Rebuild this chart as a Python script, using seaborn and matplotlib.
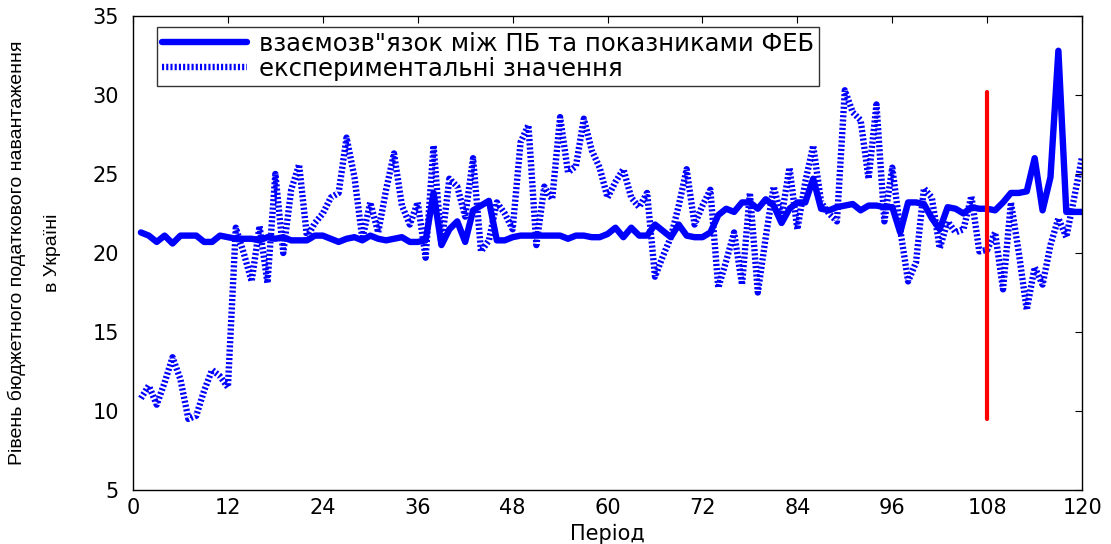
import numpy as np
import pandas as pd
import matplotlib
matplotlib.use('Agg')
import matplotlib.pyplot as plt
import seaborn as sns

# Period index
periods = list(range(1, 121))

# Model: relationship between budget burden and financial-economic indicators
model_values = [
    21.3, 21.1, 20.7, 21.1, 20.6, 21.1, 21.1, 21.1, 20.7, 20.7,
    21.1, 21.0, 20.9, 20.9, 20.9, 20.8, 21.0, 20.9, 21.0, 20.8,
    20.8, 20.8, 21.1, 21.1, 20.9, 20.7, 20.9, 21.0, 20.8, 21.1,
    20.9, 20.8, 20.9, 21.0, 20.7, 20.7, 20.8, 23.8, 20.5, 21.5,
    22.0, 20.7, 22.7, 23.0, 23.3, 20.8, 20.8, 21.0, 21.1, 21.1,
    21.1, 21.1, 21.1, 21.1, 20.9, 21.1, 21.1, 21.0, 21.0, 21.2,
    21.6, 21.0, 21.6, 21.1, 21.1, 21.8, 21.4, 21.0, 21.8, 21.1,
    21.0, 21.0, 21.3, 22.4, 22.8, 22.6, 23.2, 23.2, 22.8, 23.4,
    23.0, 21.9, 22.8, 23.2, 23.2, 24.7, 22.8, 22.7, 22.9, 23.0,
    23.1, 22.7, 23.0, 23.0, 22.9, 22.9, 21.3, 23.2, 23.2, 23.1,
    22.2, 21.5, 22.9, 22.8, 22.5, 22.9, 22.8, 22.8, 22.7, 23.2,
    23.8, 23.8, 23.9, 26.0, 22.7, 24.8, 32.8, 22.6, 22.6, 22.6,
]

# Experimental values
experimental_values = [
    10.8, 11.6, 10.4, 11.8, 13.4, 12.0, 9.5, 9.7, 11.3, 12.6,
    12.2, 11.5, 21.6, 20.0, 18.2, 21.7, 18.1, 25.0, 20.0, 24.0,
    25.6, 21.0, 21.9, 22.5, 23.5, 23.8, 27.3, 24.8, 20.9, 23.2,
    21.3, 24.0, 26.3, 23.0, 21.8, 23.2, 19.7, 26.8, 20.5, 24.7,
    24.2, 22.3, 26.0, 20.1, 20.8, 23.2, 22.5, 21.5, 27.0, 28.1,
    20.5, 24.2, 23.4, 28.6, 25.1, 25.5, 28.5, 26.5, 25.4, 23.5,
    24.5, 25.3, 23.5, 22.9, 23.8, 18.5, 19.8, 21.0, 23.0, 25.3,
    21.8, 23.0, 24.0, 17.8, 19.5, 21.3, 18.0, 23.8, 17.5, 21.0,
    24.2, 22.3, 25.4, 21.5, 24.5, 26.8, 23.2, 22.5, 22.0, 30.3,
    28.9, 28.4, 24.7, 29.4, 22.0, 25.4, 21.5, 18.2, 19.4, 24.1,
    23.5, 20.3, 22.0, 21.3, 21.5, 23.6, 20.1, 20.2, 21.3, 17.7,
    23.2, 20.0, 16.4, 19.1, 18.0, 20.5, 22.2, 21.0, 23.5, 26.1,
]

# Forecast boundary marker
split_x = [108, 108]
split_y = [9.5, 30.2]

xticks = list(range(0, 121, 12))
yticks = list(range(5, 36, 5))

label_model = 'взаємозв"язок між ПБ та показниками ФЕБ'
label_exp = 'експериментальні значення'

sns.set_style('white')
plt.rcParams['font.family'] = ['DejaVu Sans']
plt.rcParams['text.color'] = 'black'
plt.rcParams['axes.labelcolor'] = 'black'

fig = plt.figure(figsize=(11.11, 5.44), dpi=100)
ax = fig.add_axes([0.1197, 0.0993, 0.8543, 0.8713])

sns.lineplot(x=periods, y=model_values, ax=ax, color='#0000ff',
             linewidth=4.6, label=label_model)
sns.lineplot(x=periods, y=experimental_values, ax=ax, color='#0000ff',
             linewidth=4.6, label=label_exp)
ax.lines[1].set_dashes((0.33, 0.33))
ax.lines[1].set_dash_capstyle('butt')

ax.plot(split_x, split_y, color='#ff0000', linewidth=3)

ax.set_xlim(0, 120)
ax.set_ylim(5, 35)
ax.set_xticks(xticks)
ax.set_yticks(yticks)
ax.tick_params(direction='in', top=True, right=True, length=5,
               width=0.8, labelsize=15, colors='black')
ax.tick_params(axis='y', pad=10)
ax.tick_params(axis='x', pad=6)
for s in ax.spines.values():
    s.set_color('black')
    s.set_linewidth(1)

ax.set_xlabel('Період', fontsize=15, labelpad=4, color='black')
ax.set_ylabel('Рівень бюджетного податкового навантаження\nв Україні',
              fontsize=14, linespacing=2.4, family='Liberation Sans',
              color='black')
ax.yaxis.set_label_coords(-0.076, 0.5)

leg = ax.legend(loc='upper left', bbox_to_anchor=(0.025, 0.977),
                borderaxespad=0, fancybox=False, frameon=True,
                edgecolor='black', fontsize=17.5, handlelength=3.5,
                handletextpad=0.5, borderpad=0.2, labelspacing=0.05,
                labelcolor='black')
leg.get_frame().set_linewidth(1)
leg.get_lines()[1].set_dashes((0.33, 0.33))

fig.savefig('out.png', dpi=100)
